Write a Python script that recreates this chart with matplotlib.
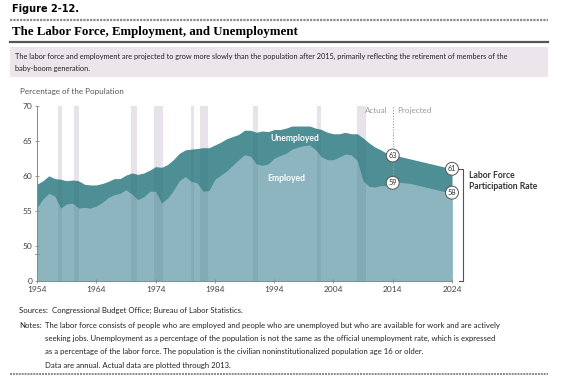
import matplotlib.pyplot as plt
from matplotlib.lines import Line2D
from matplotlib.patches import Rectangle
import numpy as np

# actual data, annual, 1954-2013
years_actual = list(range(1954, 2014))
lfpr_actual = [58.8, 59.3, 60.0, 59.6, 59.5, 59.3, 59.4, 59.3, 58.8, 58.7,
               58.7, 58.9, 59.2, 59.6, 59.6, 60.1, 60.4, 60.2, 60.4, 60.8,
               61.3, 61.2, 61.6, 62.3, 63.2, 63.7, 63.8, 63.9, 64.0, 64.0,
               64.4, 64.8, 65.3, 65.6, 65.9, 66.5, 66.5, 66.2, 66.4, 66.3,
               66.6, 66.6, 66.8, 67.1, 67.1, 67.1, 67.1, 66.8, 66.6, 66.2,
               66.0, 66.0, 66.2, 66.0, 66.0, 65.4, 64.7, 64.1, 63.7, 63.2]
emp_actual = [55.5, 56.7, 57.5, 57.1, 55.4, 56.0, 56.1, 55.4, 55.5, 55.4,
              55.7, 56.2, 56.9, 57.3, 57.5, 58.0, 57.4, 56.6, 57.0, 57.8,
              57.8, 56.1, 56.8, 57.9, 59.3, 59.9, 59.2, 59.0, 57.8, 57.9,
              59.5, 60.1, 60.7, 61.5, 62.3, 63.0, 62.8, 61.7, 61.5, 61.7,
              62.5, 62.9, 63.2, 63.8, 64.1, 64.3, 64.4, 63.7, 62.7, 62.3,
              62.3, 62.7, 63.1, 63.0, 62.2, 59.3, 58.5, 58.4, 58.6, 58.6]

# CBO projections, 2014-2024
years_proj = list(range(2014, 2025))
lfpr_proj = [62.9, 62.8, 62.6, 62.4, 62.2, 62.0, 61.8, 61.6, 61.4, 61.2, 61.0]
emp_proj = [59.0, 59.1, 59.0, 58.9, 58.7, 58.5, 58.3, 58.1, 57.9, 57.7, 57.6]

# recessions (start, end)
recessions = [(1957.5, 1958.3), (1960.2, 1961.1), (1969.9, 1970.9),
              (1973.8, 1975.2), (1980.0, 1980.5), (1981.5, 1982.9),
              (1990.5, 1991.2), (2001.2, 2001.9), (2007.9, 2009.5)]

xticks = [1954, 1964, 1974, 1984, 1994, 2004, 2014, 2024]
yticks = [45, 50, 55, 60, 65, 70]
ytick_labels = ["0", "50", "55", "60", "65", "70"]

years = np.array(years_actual + years_proj)
lfpr = np.array(lfpr_actual + lfpr_proj)
emp = np.array(emp_actual + emp_proj)

dark = "#4d8f95"
light = "#8cb5bf"
band = "#e8e3ea"
grey_txt = "#9a9a9a"
sans = ["Lato", "DejaVu Sans"]
fs = 5.4

fig = plt.figure(figsize=(5.65, 3.77), dpi=100)

# header
fig.text(12 / 565, 1 - 12 / 377, "Figure 2-12.", fontsize=7, weight="bold",
         family=["DejaVu Sans"], va="baseline")
fig.add_artist(Line2D([10 / 565, 548 / 565], [1 - 19.5 / 377] * 2,
                      color="#8a8a8a", lw=1.6, ls=(0, (1, 0.5))))
fig.text(12 / 565, 1 - 35 / 377, "The Labor Force, Employment, and Unemployment",
         fontsize=9.3, weight="bold", family=["Liberation Serif"], va="baseline")
fig.add_artist(Line2D([10 / 565, 548 / 565], [1 - 42 / 377] * 2,
                      color="#555555", lw=1.6))
fig.add_artist(Rectangle((10 / 565, 1 - 77 / 377), 538 / 565, 30 / 377,
                         transform=fig.transFigure, color="#ece5ec", lw=0))
fig.text(15 / 565, 1 - 59 / 377,
         "The labor force and employment are projected to grow more slowly than the population "
         "after 2015, primarily reflecting the retirement of members of the",
         fontsize=5.35, family=sans, va="baseline", color="#222222")
fig.text(15 / 565, 1 - 71 / 377, "baby-boom generation.",
         fontsize=5.35, family=sans, va="baseline", color="#222222")
fig.text(20 / 565, 1 - 94 / 377, "Percentage of the Population",
         fontsize=5.8, family=sans, va="baseline", color="#555555")

ax = fig.add_axes([37 / 565, 1 - 281 / 377, 415 / 565, 175.3 / 377])
ax.set_xlim(1954, 2024)
ax.set_ylim(45, 70)

for s, e in recessions:
    ax.axvspan(s, e, color=band, lw=0, zorder=0)

area = ax.fill_between(years, 45, lfpr, color=dark, lw=0, zorder=1)
ax.fill_between(years, 45, emp, color=light, lw=0, zorder=1)

# recession bands seen through the areas, clipped to the area shape
clip = area.get_paths()[0]
for s, e in recessions:
    sp = ax.axvspan(s, e, color="#3d5a66", alpha=0.10, lw=0, zorder=2)
    sp.set_clip_path(clip, ax.transData)

# actual / projected divider
ax.plot([2014, 2014], [emp[years == 2014][0], 70], color="#9a9a9a", lw=0.8,
        ls=(0, (1, 1.5)), zorder=3)
ax.text(2013.2, 69.3, "Actual", ha="right", va="center", fontsize=5.8,
        family=sans, color=grey_txt)
ax.text(2014.8, 69.3, "Projected", ha="left", va="center", fontsize=5.8,
        family=sans, color=grey_txt)

# end-point markers
for x, y, lab in [(2014, lfpr[years == 2014][0], "63"),
                  (2014, emp[years == 2014][0], "59"),
                  (2024, lfpr[-1], "61"),
                  (2024, emp[-1], "58")]:
    ax.text(x, y, lab, ha="center", va="center", fontsize=5.3, family=sans,
            color="#333333", zorder=5,
            bbox=dict(boxstyle="circle,pad=0.3", fc="white", ec="#555555", lw=0.7))

ax.text(1997.5, 65.3, "Unemployed", ha="center", va="center", fontsize=6.2,
        weight="bold", family=sans, color="white", zorder=4)
ax.text(1996, 59.6, "Employed", ha="center", va="center", fontsize=6.2,
        weight="bold", family=sans, color="white", zorder=4)

# bracket and label
ax.plot([2025.2, 2025.8, 2025.8, 2025.2], [61.0, 61.0, 45, 45], color="#555555",
        lw=0.8, clip_on=False)
ax.text(2026.8, 59.3, "Labor Force\nParticipation Rate", ha="left", va="center",
        fontsize=6.2, weight="bold", family=sans, color="#333333",
        linespacing=1.25)

# axes
for sp in ["top", "right"]:
    ax.spines[sp].set_visible(False)
for sp in ["left", "bottom"]:
    ax.spines[sp].set_color("#8a8a8a")
    ax.spines[sp].set_linewidth(0.7)
ax.set_xticks(xticks)
ax.set_yticks(yticks)
ax.set_yticklabels(ytick_labels)
ax.tick_params(axis="both", colors="#8a8a8a", labelcolor="#444444",
               labelsize=6, width=0.6, length=3, direction="inout", pad=2)
for lab in ax.get_xticklabels() + ax.get_yticklabels():
    lab.set_family(sans)
# axis break mark
ax.plot([1953.6, 1954.4], [48.9, 48.9], color="#8a8a8a", lw=0.6, clip_on=False, zorder=6)

# footer
fig.text(19 / 565, 1 - 313 / 377, "Sources:  Congressional Budget Office; Bureau of Labor Statistics.",
         fontsize=fs + 0.2, family=sans, va="baseline", color="#222222")
fig.text(19 / 565, 1 - 328 / 377, "Notes:", fontsize=fs + 0.2, family=sans,
         va="baseline", color="#222222")
notes = ["The labor force consists of people who are employed and people who are unemployed "
         "but who are available for work and are actively",
         "seeking jobs. Unemployment as a percentage of the population is not the same as the "
         "official unemployment rate, which is expressed",
         "as a percentage of the labor force. The population is the civilian noninstitutionalized "
         "population age 16 or older."]
for i, line in enumerate(notes):
    fig.text(45 / 565, 1 - (328 + 13 * i) / 377, line, fontsize=fs + 0.2, family=sans,
             va="baseline", color="#222222")
fig.text(45 / 565, 1 - 368 / 377, "Data are annual. Actual data are plotted through 2013.",
         fontsize=fs + 0.2, family=sans, va="baseline", color="#222222")
fig.add_artist(Line2D([10 / 565, 548 / 565], [1 - 374 / 377] * 2,
                      color="#8a8a8a", lw=1.4, ls=(0, (1, 0.5))))

fig.savefig("out.png", dpi=100)
